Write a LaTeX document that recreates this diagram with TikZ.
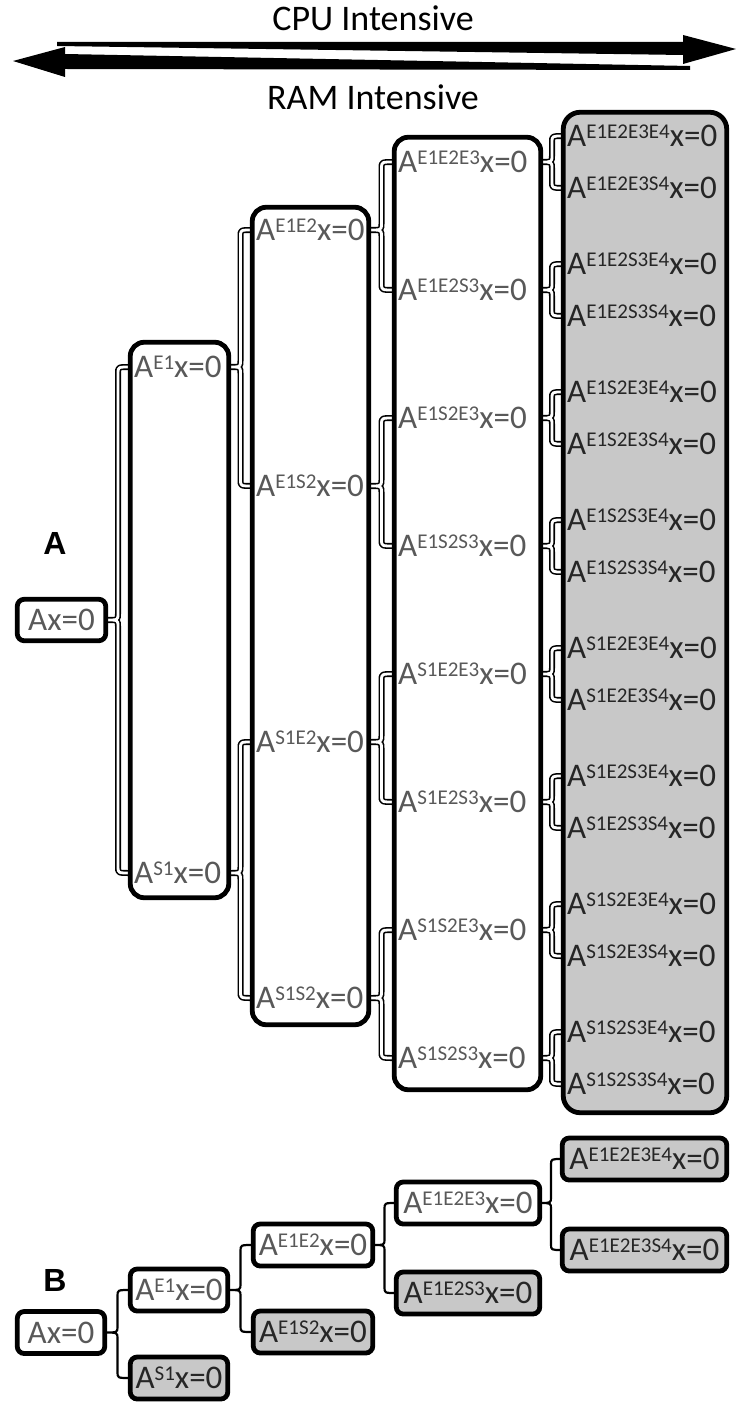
\documentclass[tikz,border=0pt]{standalone}
\usepackage{fontspec}
\setmainfont{Carlito}
\newfontfamily\lbfont{Liberation Sans}
\usetikzlibrary{calc}
\pgfdeclarelayer{bg}
\pgfsetlayers{bg,main}
\definecolor{tgray}{HTML}{595959}
\definecolor{tdark}{HTML}{262626}
\definecolor{boxgray}{HTML}{C8C8C8}
\newcommand\spx[1]{\raisebox{8.5pt}{\fontsize{21}{21}\selectfont #1}}
\newcommand\brc[4][]{%
  \draw[#1] let \p1=(#2), \p2=(#3), \p3=(#4), \n1={0.5*(\x1+\x2)} in
    (\p2) .. controls ({\n1*1pt},\y2) .. ({\n1*1pt},{\y2-6pt})
    -- ({\n1*1pt},{\y1+6pt}) .. controls ({\n1*1pt},\y1) .. (\p1)
    .. controls ({\n1*1pt},\y1) .. ({\n1*1pt},{\y1-6pt})
    -- ({\n1*1pt},{\y3+6pt}) .. controls ({\n1*1pt},\y3) .. (\p3);}
\begin{document}
\begin{tikzpicture}[x=1pt,y=-1pt,
  tx/.style={inner sep=0pt, anchor=west, text height=21.3pt, text depth=0pt,
    font=\fontsize{33}{33}\selectfont, text=tgray},
  tx5/.style={tx, text=tdark},
  colbox/.style={draw, line width=4.8pt, rounded corners=14pt, fill=white, outer sep=0pt, inner sep=0pt},
  bbox/.style={draw, line width=4.8pt, rounded corners=7pt, fill=white, outer sep=0pt, inner sep=0pt,
    text height=21.3pt, text depth=0pt, font=\fontsize{33}{33}\selectfont, text=tgray,
    minimum height=42pt},
  gbox/.style={bbox, fill=boxgray, text=tdark},
  abrace/.style={line width=1.6pt, double=white, double distance=2.8pt, line join=round},
  bbrace/.style={line width=2.2pt, line join=round},
  side/.style={font=\fontsize{36}{36}\selectfont, inner sep=0pt},
  panel/.style={font=\lbfont\bfseries\fontsize{32}{32}\selectfont, inner sep=0pt}]
\useasboundingbox (0,0) rectangle (743,1412);

% top arrows and labels
\node[side] (cpu) at (373,18) {CPU Intensive};
\node[side] (ram) at (373,97) {RAM Intensive};
\fill (57,42) -- (683,42) -- (683,35) -- (736,49) -- (683,64) -- (683,55) -- (57,46) -- cycle;
\fill (690,70) -- (65,69) -- (65,77) -- (13,61) -- (65,47) -- (65,54) -- (690,66) -- cycle;

% ---------- Panel A ----------
\node[panel] (lblA) at (55,543) {A};
\node[bbox, minimum width=88.5pt, minimum height=41.5pt] (A-0) at (61.5,620) {Ax=0};

\node[colbox, minimum width=98.5pt, minimum height=555.5pt] (c2) at (179.5,620) {};
\node[colbox, minimum width=116.5pt, minimum height=817.5pt] (c3) at (310.5,616) {};
\node[colbox, minimum width=146.5pt, minimum height=952.5pt] (c4) at (467.5,613.5) {};
\node[colbox, fill=boxgray, rounded corners=17pt, minimum width=163.5pt, minimum height=1000.5pt] (c5) at (645,612.5) {};

\node[tx] (A-E1) at (134,367) {A\spx{E1}x=0};
\node[tx] (A-S1) at (134,873) {A\spx{S1}x=0};

\foreach \s/\yy in {E1E2/230,E1S2/486,S1E2/742,S1S2/998}
  \node[tx] (A-\s) at (256,\yy) {A\spx{\s}x=0};

\foreach \s [count=\i from 0] in {E1E2E3,E1E2S3,E1S2E3,E1S2S3,S1E2E3,S1E2S3,S1S2E3,S1S2S3}{
  \pgfmathsetmacro\yy{162+128*\i}
  \node[tx] (A-\s) at (398,\yy) {A\spx{\s}x=0};
}

\foreach \s [count=\i from 0] in {E1E2E3E4,E1E2E3S4,E1E2S3E4,E1E2S3S4,E1S2E3E4,E1S2E3S4,E1S2S3E4,E1S2S3S4,
    S1E2E3E4,S1E2E3S4,S1E2S3E4,S1E2S3S4,S1S2E3E4,S1S2E3S4,S1S2S3E4,S1S2S3S4}{
  \pgfmathsetmacro\yy{136+128*floor(\i/2)+52*mod(\i,2)}
  \node[tx5] (A-\s) at (567,\yy) {A\spx{\s}x=0};
}

% ---------- Panel B ----------
\node[panel] (lblB) at (55,1280) {B};
\node[bbox, minimum width=87.5pt] (B-0) at (61,1332.5) {Ax=0};
\node[bbox, minimum width=97.5pt] (B-E1) at (179,1290) {A\spx{E1}x=0};
\node[gbox, minimum width=97.5pt] (B-S1) at (179,1378) {A\spx{S1}x=0};
\node[bbox, minimum width=119.5pt] (B-E1E2) at (313,1245) {A\spx{E1E2}x=0};
\node[gbox, minimum width=119.5pt] (B-E1S2) at (313,1332) {A\spx{E1S2}x=0};
\node[bbox, minimum width=143.5pt] (B-E1E2E3) at (468,1203) {A\spx{E1E2E3}x=0};
\node[gbox, minimum width=143.5pt] (B-E1E2S3) at (468,1293) {A\spx{E1E2S3}x=0};
\node[gbox, minimum width=164.5pt] (B-E1E2E3E4) at (644.5,1159) {A\spx{E1E2E3E4}x=0};
\node[gbox, minimum width=164.5pt] (B-E1E2E3S4) at (644.5,1250) {A\spx{E1E2E3S4}x=0};

% ---------- braces ----------
\begin{pgfonlayer}{bg}
  \brc[abrace]{A-0.east}{c2.west |- A-E1}{c2.west |- A-S1}
  \brc[abrace]{c2.east |- A-E1}{c3.west |- A-E1E2}{c3.west |- A-E1S2}
  \brc[abrace]{c2.east |- A-S1}{c3.west |- A-S1E2}{c3.west |- A-S1S2}
  \foreach \q in {E1E2,E1S2,S1E2,S1S2}
    \brc[abrace]{c3.east |- A-\q}{c4.west |- A-\q E3}{c4.west |- A-\q S3};
  \foreach \q in {E1E2E3,E1E2S3,E1S2E3,E1S2S3,S1E2E3,S1E2S3,S1S2E3,S1S2S3}
    \brc[abrace]{c4.east |- A-\q}{c5.west |- A-\q E4}{c5.west |- A-\q S4};

  \brc[bbrace]{B-0.east}{B-E1.west}{B-S1.west}
  \brc[bbrace]{B-E1.east}{B-E1E2.west}{B-E1S2.west}
  \brc[bbrace]{B-E1E2.east}{B-E1E2E3.west}{B-E1E2S3.west}
  \brc[bbrace]{B-E1E2E3.east}{B-E1E2E3E4.west}{B-E1E2E3S4.west}
\end{pgfonlayer}
\end{tikzpicture}
\end{document}
